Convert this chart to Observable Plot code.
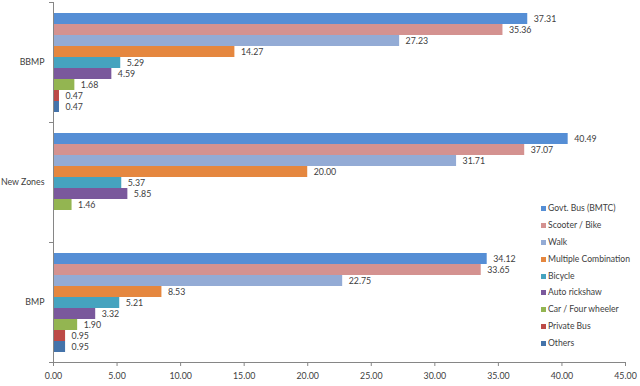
<!DOCTYPE html>
<html>
<head>
<meta charset="utf-8">
<script src="https://cdn.jsdelivr.net/npm/d3@7"></script>
<script src="https://cdn.jsdelivr.net/npm/@observablehq/plot@0.6"></script>
<style>
  html, body { margin: 0; padding: 0; background: #fff; }
  #wrap { position: relative; width: 640px; height: 386px; font-family: Lato, "Open Sans", sans-serif; }
  #legend { position: absolute; left: 541px; top: 200px; font-size: 8.6px; color: #404040; }
  #legend .row { height: 16.9px; line-height: 16.9px; white-space: nowrap; }
  #legend .sw { display: inline-block; width: 5px; height: 5px; margin-right: 2px; vertical-align: 0px; }
</style>
</head>
<body>
<div id="wrap"><div id="legend"></div></div>
<script>
const groups = ["BBMP", "New Zones", "BMP"];
const series = ["Govt. Bus (BMTC)", "Scooter / Bike", "Walk", "Multiple Combination", "Bicycle", "Auto rickshaw", "Car / Four wheeler", "Private Bus", "Others"];
const colors = ["#558ed5", "#d49290", "#93abd5", "#e5873f", "#45a3bf", "#7a589c", "#93b551", "#bc4a47", "#4473aa"];
const bbmpValues = [37.31, 35.36, 27.23, 14.27, 5.29, 4.59, 1.68, 0.47, 0.47];
const newZonesValues = [40.49, 37.07, 31.71, 20.00, 5.37, 5.85, 1.46, null, null];
const bmpValues = [34.12, 33.65, 22.75, 8.53, 5.21, 3.32, 1.90, 0.95, 0.95];
const xTicks = [0, 5, 10, 15, 20, 25, 30, 35, 40, 45];

const valuesByGroup = [bbmpValues, newZonesValues, bmpValues];
const data = [];
groups.forEach((g, gi) => series.forEach((s, si) => {
  const v = valuesByGroup[gi][si];
  if (v != null) data.push({group: g, series: s, value: v});
}));

const fmt = d3.format(".2f");
const W = 640, H = 386, ML = 53, MR = 15;

const chart = Plot.plot({
  width: W, height: H,
  marginLeft: ML, marginRight: MR, marginTop: 2, marginBottom: 24,
  style: {fontFamily: "Lato, 'Open Sans', sans-serif", fontSize: "8.8px", color: "#404040", background: "#fff"},
  x: {domain: [0, 45], axis: null},
  y: {domain: series, paddingInner: 0, paddingOuter: 0.8, axis: null},
  fy: {domain: groups, padding: 0, axis: null, label: null},
  color: {domain: series, range: colors},
  marks: [
    Plot.barX(data, {fy: "group", y: "series", x: "value", fill: "series"}),
    Plot.text(data, {fy: "group", y: "series", x: "value", text: d => fmt(d.value), dx: 6, textAnchor: "start", fill: "#404040"}),
    Plot.ruleX([0], {stroke: "#868686"}),
    Plot.frame({anchor: "top", stroke: "#868686", insetLeft: -4, insetRight: W - ML - MR}),
    Plot.frame({anchor: "bottom", stroke: "#868686", insetLeft: -4, insetRight: W - ML - MR}),
    Plot.axisX({ticks: xTicks, tickFormat: fmt, tickSize: 4, tickPadding: 6, stroke: "#868686", fill: "#404040", label: null}),
    Plot.frame({anchor: "bottom", stroke: "#868686", facetAnchor: "bottom"}),
    Plot.axisFy({anchor: "left", tickSize: 0, tickPadding: 9, fill: "#404040", label: null})
  ]
});
document.getElementById("wrap").prepend(chart);

const legend = document.getElementById("legend");
series.forEach((s, i) => {
  const row = document.createElement("div");
  row.className = "row";
  const sw = document.createElement("span");
  sw.className = "sw";
  sw.style.background = colors[i];
  row.appendChild(sw);
  row.appendChild(document.createTextNode(s));
  legend.appendChild(row);
});
</script>
</body>
</html>
